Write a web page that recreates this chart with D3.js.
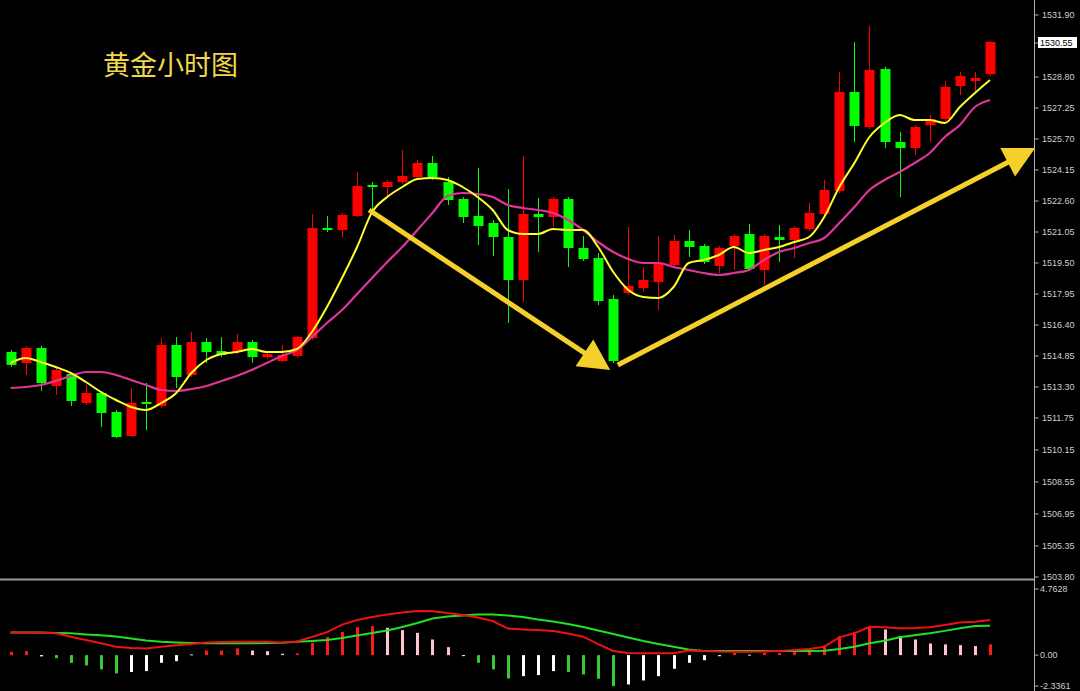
<!DOCTYPE html>
<html><head><meta charset="utf-8">
<script src="https://cdn.jsdelivr.net/npm/d3@7"></script>
<style>html,body{margin:0;padding:0;background:#000;overflow:hidden}</style>
</head><body><svg id="c" width="1080" height="691"></svg>
<script>
// ---------- data ----------
const opens = [1515.05,1514.50,1515.25,1513.35,1513.95,1512.50,1513.00,1512.05,1510.85,1512.55,
1512.35,1515.40,1513.90,1515.55,1515.10,1515.05,1515.55,1514.80,1514.60,1514.85,
1515.75,1521.25,1521.15,1521.85,1523.40,1523.30,1523.55,1523.80,1524.50,1523.55,
1522.70,1521.85,1521.50,1520.80,1518.65,1521.95,1521.80,1522.70,1520.25,1519.75,
1517.70,1518.00,1518.25,1518.55,1519.40,1520.60,1520.35,1519.35,1520.35,1520.95,
1519.15,1520.80,1520.65,1521.20,1521.95,1523.10,1528.05,1526.30,1529.20,1525.55,
1525.25,1526.40,1526.70,1528.35,1528.60,1528.95];
const highs = [1515.15,1515.35,1515.35,1514.25,1514.05,1513.40,1513.10,1512.15,1513.25,1513.50,
1515.75,1515.80,1516.05,1515.75,1515.80,1515.95,1515.65,1515.05,1515.40,1515.85,
1521.95,1521.85,1522.00,1524.05,1523.55,1523.65,1525.15,1524.65,1524.85,1523.80,
1522.80,1524.25,1521.65,1523.20,1524.85,1522.75,1522.80,1522.80,1520.85,1520.00,
1517.90,1521.30,1519.30,1520.85,1520.90,1521.15,1520.45,1520.35,1520.95,1521.45,
1520.95,1521.40,1521.35,1522.50,1523.65,1529.05,1530.55,1531.35,1529.30,1526.05,
1526.40,1526.90,1528.60,1529.05,1529.05,1530.60];
const lows = [1514.30,1513.90,1513.10,1512.90,1512.35,1512.40,1511.30,1510.75,1510.80,1511.15,
1512.25,1513.25,1513.80,1514.50,1514.80,1514.95,1514.50,1514.70,1514.55,1514.75,
1515.65,1521.05,1520.80,1521.80,1522.05,1522.80,1523.45,1523.70,1523.65,1522.40,
1521.50,1520.40,1519.85,1516.50,1517.55,1520.05,1521.30,1519.30,1519.60,1517.40,
1514.50,1517.90,1518.05,1517.15,1519.30,1519.80,1519.45,1519.00,1519.15,1519.10,
1518.40,1519.55,1519.75,1521.10,1521.85,1523.00,1525.55,1526.20,1525.25,1522.80,
1524.90,1525.55,1526.60,1527.90,1528.05,1528.85];
const closes = [1514.40,1515.25,1513.50,1514.15,1512.60,1513.00,1512.00,1510.80,1512.50,1512.45,
1515.40,1513.80,1515.55,1515.05,1514.90,1515.55,1514.80,1514.95,1514.90,1515.80,
1521.25,1521.15,1521.90,1523.35,1523.30,1523.55,1523.85,1524.50,1523.80,1522.65,
1521.80,1521.35,1520.80,1518.65,1521.95,1521.80,1522.70,1520.25,1519.70,1517.60,
1514.60,1518.35,1518.65,1519.45,1520.60,1520.30,1519.55,1520.25,1520.85,1519.20,
1520.85,1520.65,1521.25,1522.00,1523.15,1528.05,1526.35,1529.15,1525.55,1525.25,
1526.30,1526.70,1528.30,1528.85,1528.75,1530.55];
const maFast = [1514.50,1514.75,1514.55,1514.30,1514.00,1513.55,1513.05,1512.65,1512.30,1512.15,
1512.50,1513.00,1514.00,1514.65,1514.95,1515.05,1515.20,1515.05,1515.05,1515.20,
1516.05,1517.30,1518.75,1520.30,1522.05,1522.80,1523.30,1523.70,1523.75,1523.65,
1523.30,1522.80,1522.15,1521.15,1520.95,1520.95,1521.20,1521.15,1521.15,1520.30,
1519.05,1518.15,1517.80,1517.75,1518.30,1519.50,1519.65,1519.90,1520.30,1520.00,
1520.15,1520.30,1520.55,1520.80,1521.80,1523.30,1524.50,1525.80,1526.50,1526.90,
1526.65,1526.65,1526.50,1527.30,1528.00,1528.65];
const maSlow = [1513.25,1513.30,1513.40,1513.60,1513.85,1514.05,1514.05,1513.90,1513.65,1513.40,
1513.15,1513.10,1513.20,1513.35,1513.60,1513.85,1514.15,1514.50,1514.85,1515.15,
1515.80,1516.50,1517.15,1517.95,1518.75,1519.55,1520.30,1521.15,1522.00,1522.85,
1523.00,1522.95,1522.80,1522.40,1522.25,1522.15,1522.00,1521.65,1521.15,1520.55,
1520.05,1519.70,1519.50,1519.50,1519.30,1519.15,1519.00,1518.90,1519.00,1519.15,
1519.65,1520.05,1520.25,1520.50,1520.75,1521.50,1522.30,1523.15,1523.65,1524.05,
1524.50,1525.00,1525.80,1526.40,1527.30,1527.65];
const macdHist = [0.22,0.26,-0.08,-0.2,-0.5,-0.67,-0.93,-1.19,-1.1,-1.04,
-0.5,-0.39,0.05,0.3,0.3,0.44,0.3,0.26,0.09,0.11,
0.8,1.19,1.52,1.82,1.89,1.78,1.63,1.45,1.02,0.52,
-0.04,-0.5,-0.93,-1.52,-1.37,-1.3,-1.04,-1.1,-1.26,-1.54,
-2.02,-1.91,-1.65,-1.37,-0.89,-0.5,-0.33,-0.07,0.15,0.03,
0.15,0.15,0.2,0.26,0.63,1.24,1.5,1.89,1.67,1.24,
1.02,0.76,0.7,0.65,0.59,0.7];
const macdDif = [1.48,1.47,1.45,1.42,1.20,0.98,0.77,0.55,0.46,0.43,
0.55,0.64,0.72,0.83,0.85,0.87,0.87,0.87,0.82,0.89,
1.18,1.50,1.99,2.29,2.48,2.64,2.77,2.87,2.85,2.74,
2.61,2.45,2.22,1.73,1.67,1.63,1.57,1.41,1.20,0.72,
0.27,0.14,0.12,0.12,0.12,0.30,0.27,0.23,0.22,0.22,
0.23,0.27,0.33,0.40,0.55,1.16,1.42,1.85,1.81,1.75,
1.76,1.81,1.96,2.12,2.18,2.29];
const macdDea = [1.48,1.48,1.47,1.44,1.42,1.35,1.29,1.21,1.08,0.95,
0.87,0.83,0.79,0.77,0.77,0.77,0.78,0.79,0.80,0.87,
0.92,0.98,1.11,1.28,1.44,1.60,1.83,2.09,2.38,2.51,
2.58,2.64,2.64,2.58,2.48,2.32,2.19,2.03,1.83,1.60,
1.37,1.15,0.92,0.72,0.55,0.36,0.27,0.27,0.27,0.27,
0.27,0.27,0.27,0.27,0.29,0.40,0.55,0.77,0.94,1.16,
1.29,1.42,1.58,1.75,1.90,1.91];
const priceTicks = [1531.90,1528.80,1527.25,1525.70,1524.15,1522.60,1521.05,1519.50,1517.95,
1516.40,1514.85,1513.30,1511.75,1510.15,1508.55,1506.95,1505.35,1503.80];
const macdTicks = [4.7628,0,-2.3361];
const lastPrice = 1530.55;
const title = "黄金小时图";
// arrows: [candle index, price]
const arrowFrom = [[23.8,1522.15],[40.3,1514.40]];
const arrowTo = [[39.8,1514.15],[68.0,1525.25]];

// ---------- scales ----------
const svg = d3.select('#c');
const W = 1080, H = 691, axisX = 1034.5;
const n = closes.length;
const x = d3.scaleLinear().domain([0, n-1]).range([10.5, 990]);
const y = d3.scaleLinear().domain([1503.80, 1531.90]).range([577, 15]);
const ym = d3.scaleLinear().domain([-2.3361, 4.7628]).range([691, 582]);
const RED = '#ff0000', GREEN = '#00ff00';

svg.append('rect').attr('width',W).attr('height',H).attr('fill','#000');
svg.append('defs').append('clipPath').attr('id','mainClip')
  .append('rect').attr('x',0).attr('y',0).attr('width',axisX).attr('height',578);
svg.select('defs').append('clipPath').attr('id','macdClip')
  .append('rect').attr('x',0).attr('y',581).attr('width',axisX).attr('height',110);

const main = svg.append('g').attr('clip-path','url(#mainClip)');
const idx = d3.range(n);

// candles
const bw = 10;
const cg = main.append('g');
idx.forEach(i => {
  const up = closes[i] > opens[i];
  const col = up ? RED : GREEN;
  const cx = Math.round(x(i)) + 0.5;
  cg.append('line').attr('x1',cx).attr('x2',cx).attr('y1',y(highs[i])).attr('y2',y(lows[i]))
    .attr('stroke',col).attr('stroke-width',1);
  const top = y(Math.max(opens[i],closes[i])), bot = y(Math.min(opens[i],closes[i]));
  cg.append('rect').attr('x',cx-bw/2).attr('y',top).attr('width',bw).attr('height',Math.max(1.5,bot-top))
    .attr('fill',col);
});

// moving averages
const lineMain = arr => d3.line().x((d,i)=>x(i)).y(d=>y(d)).curve(d3.curveMonotoneX)(arr);
main.append('path').attr('d',lineMain(maSlow)).attr('fill','none').attr('stroke','#e0359a').attr('stroke-width',2.2);
main.append('path').attr('d',lineMain(maFast)).attr('fill','none').attr('stroke','#ffff2a').attr('stroke-width',2);

// arrows
const AC = '#f5d02a';
const ag = svg.append('g');
arrowFrom.forEach((f,k) => {
  const x0 = x(f[0]), y0 = y(f[1]), x1 = x(arrowTo[k][0]), y1 = y(arrowTo[k][1]);
  const dx = x1-x0, dy = y1-y0, L = Math.hypot(dx,dy), ux = dx/L, uy = dy/L;
  const hl = 31, hw = 16;
  const bx = x1-ux*hl, by = y1-uy*hl;
  ag.append('line').attr('x1',x0).attr('y1',y0).attr('x2',bx+ux*4).attr('y2',by+uy*4)
    .attr('stroke',AC).attr('stroke-width',5);
  ag.append('polygon').attr('fill',AC)
    .attr('points',[[x1,y1],[bx-uy*hw,by+ux*hw],[bx+uy*hw,by-ux*hw]].map(p=>p.join(',')).join(' '));
});

// title
svg.append('text').attr('x',103).attr('y',75).text(title)
  .attr('font-family','"Noto Sans CJK SC", sans-serif').attr('font-size',27).attr('fill','#f0d84a');

// MACD panel
const mg = svg.append('g').attr('clip-path','url(#macdClip)');
const z = ym(0);
idx.forEach(i => {
  const v = macdHist[i], pv = i>0 ? macdHist[i-1] : 0;
  const grow = Math.abs(v) >= Math.abs(pv);
  const col = v >= 0 ? (grow ? '#ff1a1a' : '#ffc4cc') : (grow ? '#33cc33' : '#ffffff');
  const yy = ym(v);
  mg.append('rect').attr('x',Math.round(x(i))-1).attr('width',3)
    .attr('y',Math.min(yy,z)).attr('height',Math.max(1,Math.abs(yy-z))).attr('fill',col);
});
const lineM = arr => d3.line().x((d,i)=>x(i)).y(d=>ym(d))(arr);
mg.append('path').attr('d',lineM(macdDea)).attr('fill','none').attr('stroke','#22e022').attr('stroke-width',2);
mg.append('path').attr('d',lineM(macdDif)).attr('fill','none').attr('stroke','#ee1111').attr('stroke-width',2);

// separators and axis
svg.append('line').attr('x1',0).attr('x2',axisX).attr('y1',579.5).attr('y2',579.5).attr('stroke','#9a9a9a').attr('stroke-width',2);
svg.append('line').attr('x1',axisX).attr('x2',axisX).attr('y1',0).attr('y2',H).attr('stroke','#b0b0b0').attr('stroke-width',1);

const ax = svg.append('g').attr('font-family','"Liberation Sans", Arial, sans-serif').attr('font-size',9).attr('fill','#cfcfcf');
priceTicks.forEach(t => {
  const yy = y(t);
  ax.append('line').attr('x1',axisX).attr('x2',axisX+4).attr('y1',yy).attr('y2',yy).attr('stroke','#b0b0b0');
  ax.append('text').attr('x',1042).attr('y',yy).attr('dy','0.35em').text(d3.format('.2f')(t));
});
macdTicks.forEach(t => {
  const yy = ym(t);
  const ty = Math.min(Math.max(yy, 589), 686);
  ax.append('line').attr('x1',axisX).attr('x2',axisX+4).attr('y1',ty).attr('y2',ty).attr('stroke','#b0b0b0');
  ax.append('text').attr('x',1040).attr('y',ty).attr('dy','0.35em').text(t===0 ? '0.00' : String(t));
});
// current price box
const py = y(lastPrice) + 1;
ax.append('line').attr('x1',axisX).attr('x2',axisX+4).attr('y1',py).attr('y2',py).attr('stroke','#b0b0b0');
svg.append('rect').attr('x',1038).attr('y',py-6).attr('width',39).attr('height',11).attr('fill','#fff');
svg.append('text').attr('x',1040).attr('y',py).attr('dy','0.35em').text(d3.format('.2f')(lastPrice))
  .attr('font-family','"Liberation Sans", Arial, sans-serif').attr('font-size',9).attr('fill','#000');
</script>
</body></html>
